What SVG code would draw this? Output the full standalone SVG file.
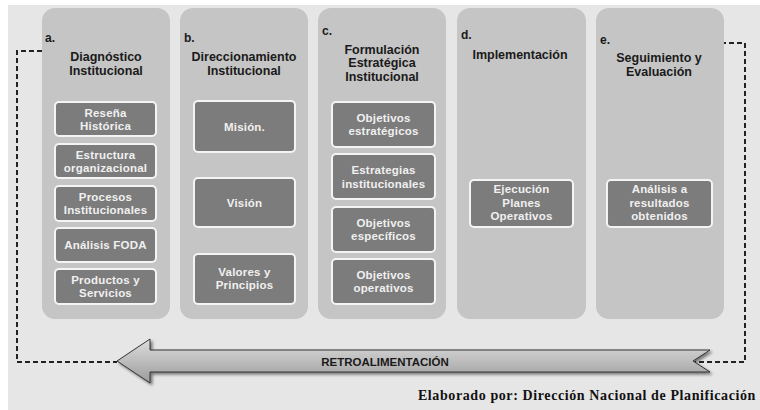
<svg xmlns="http://www.w3.org/2000/svg" width="760" height="410" viewBox="0 0 760 410">
<defs>
<style>
.col{fill:#c5c5c5;}
.box{fill:#7c7c7c;stroke:#f4f4f4;stroke-width:2;}
.lbl{font-family:"Liberation Sans",Arial,sans-serif;font-weight:bold;font-size:12px;fill:#1a1a1a;}
.ttl{font-family:"Liberation Sans",Arial,sans-serif;font-weight:bold;font-size:12.5px;fill:#1a1a1a;text-anchor:middle;}
.bt{font-family:"Liberation Sans",Arial,sans-serif;font-weight:bold;font-size:11.5px;letter-spacing:0.2px;fill:#f0f0f0;text-anchor:middle;}
.dash{fill:none;stroke:#222;stroke-width:2;stroke-dasharray:5,3;}
</style>
<linearGradient id="ag" x1="0" y1="0" x2="0" y2="1">
<stop offset="0" stop-color="#dcdcdc"/>
<stop offset="0.5" stop-color="#bdbdbd"/>
<stop offset="1" stop-color="#9a9a9a"/>
</linearGradient>
<filter id="sh" x="-5%" y="-30%" width="110%" height="160%">
<feGaussianBlur in="SourceAlpha" stdDeviation="1.5"/>
<feOffset dx="1.5" dy="2" result="o"/>
<feComponentTransfer><feFuncA type="linear" slope="0.5"/></feComponentTransfer>
<feMerge><feMergeNode/><feMergeNode in="SourceGraphic"/></feMerge>
</filter>
</defs>
<rect x="0" y="0" width="760" height="410" fill="#ffffff"/>
<rect x="8" y="5" width="752" height="405" fill="#e6e6e6"/>

<g id="connectors">
<polyline class="dash" points="42,51 17,51 17,362 117,362"/>
<polyline class="dash" points="721,43 745,43 745,362 695,362"/>
</g>

<g id="col-a">
<rect class="col" x="42" y="8" width="128" height="311" rx="13"/>
<text class="lbl" x="45" y="42">a.</text>
<text class="ttl" x="106" y="61">Diagnóstico</text>
<text class="ttl" x="106" y="75">Institucional</text>
<g id="a1"><rect class="box" x="55" y="102" width="101" height="34" rx="4"/><text class="bt" x="105.5" y="117">Reseña</text><text class="bt" x="105.5" y="130">Histórica</text></g>
<g id="a2"><rect class="box" x="55" y="144" width="101" height="34" rx="4"/><text class="bt" x="105.5" y="159">Estructura</text><text class="bt" x="105.5" y="172">organizacional</text></g>
<g id="a3"><rect class="box" x="55" y="186" width="101" height="35" rx="4"/><text class="bt" x="105.5" y="201">Procesos</text><text class="bt" x="105.5" y="214">Institucionales</text></g>
<g id="a4"><rect class="box" x="55" y="228" width="101" height="34" rx="4"/><text class="bt" x="105.5" y="249">Análisis FODA</text></g>
<g id="a5"><rect class="box" x="55" y="269" width="101" height="35" rx="4"/><text class="bt" x="105.5" y="284">Productos y</text><text class="bt" x="105.5" y="297">Servicios</text></g>
</g>

<g id="col-b">
<rect class="col" x="180" y="8" width="128" height="311" rx="13"/>
<text class="lbl" x="184" y="42">b.</text>
<text class="ttl" x="244" y="61">Direccionamiento</text>
<text class="ttl" x="244" y="75">Institucional</text>
<g id="b1"><rect class="box" x="194" y="101" width="101" height="51" rx="4"/><text class="bt" x="244.5" y="131">Misión.</text></g>
<g id="b2"><rect class="box" x="194" y="178" width="101" height="49" rx="4"/><text class="bt" x="244.5" y="207">Visión</text></g>
<g id="b3"><rect class="box" x="194" y="254" width="101" height="50" rx="4"/><text class="bt" x="244.5" y="276">Valores y</text><text class="bt" x="244.5" y="289">Principios</text></g>
</g>

<g id="col-c">
<rect class="col" x="318" y="8" width="128" height="311" rx="13"/>
<text class="lbl" x="322" y="35">c.</text>
<text class="ttl" x="382" y="54">Formulación</text>
<text class="ttl" x="382" y="67">Estratégica</text>
<text class="ttl" x="382" y="81">Institucional</text>
<g id="c1"><rect class="box" x="332" y="102" width="103" height="45" rx="4"/><text class="bt" x="383.5" y="122">Objetivos</text><text class="bt" x="383.5" y="135">estratégicos</text></g>
<g id="c2"><rect class="box" x="332" y="154" width="103" height="45" rx="4"/><text class="bt" x="383.5" y="174">Estrategias</text><text class="bt" x="383.5" y="188">institucionales</text></g>
<g id="c3"><rect class="box" x="332" y="207" width="103" height="45" rx="4"/><text class="bt" x="383.5" y="227">Objetivos</text><text class="bt" x="383.5" y="240">específicos</text></g>
<g id="c4"><rect class="box" x="332" y="259" width="103" height="45" rx="4"/><text class="bt" x="383.5" y="279">Objetivos</text><text class="bt" x="383.5" y="292">operativos</text></g>
</g>

<g id="col-d">
<rect class="col" x="457" y="8" width="129" height="311" rx="13"/>
<text class="lbl" x="461" y="39">d.</text>
<text class="ttl" x="520" y="59">Implementación</text>
<g id="d1"><rect class="box" x="470" y="180" width="103" height="47" rx="4"/><text class="bt" x="521.5" y="193">Ejecución</text><text class="bt" x="521.5" y="207">Planes</text><text class="bt" x="521.5" y="220">Operativos</text></g>
</g>

<g id="col-e">
<rect class="col" x="596" y="8" width="128" height="311" rx="13"/>
<text class="lbl" x="600" y="44">e.</text>
<text class="ttl" x="659" y="62">Seguimiento y</text>
<text class="ttl" x="659" y="76">Evaluación</text>
<g id="e1"><rect class="box" x="607" y="180" width="105" height="47" rx="4"/><text class="bt" x="659.5" y="193">Análisis a</text><text class="bt" x="659.5" y="207">resultados</text><text class="bt" x="659.5" y="220">obtenidos</text></g>
</g>

<g id="arrow">
<polygon points="117,361 150,339 150,350 710,350 693,361 710,372 150,372 150,383" fill="url(#ag)" stroke="#333" stroke-width="1" filter="url(#sh)"/>
<text x="385" y="366" font-family="'Liberation Sans',Arial,sans-serif" font-weight="bold" font-size="11.5" fill="#1a1a1a" text-anchor="middle">RETROALIMENTACIÓN</text>
</g>

<text x="756" y="400" font-family="'Liberation Serif','Times New Roman',serif" font-weight="bold" font-size="14" letter-spacing="0.6" fill="#111" text-anchor="end">Elaborado por: Dirección Nacional de Planificación</text>
</svg>
